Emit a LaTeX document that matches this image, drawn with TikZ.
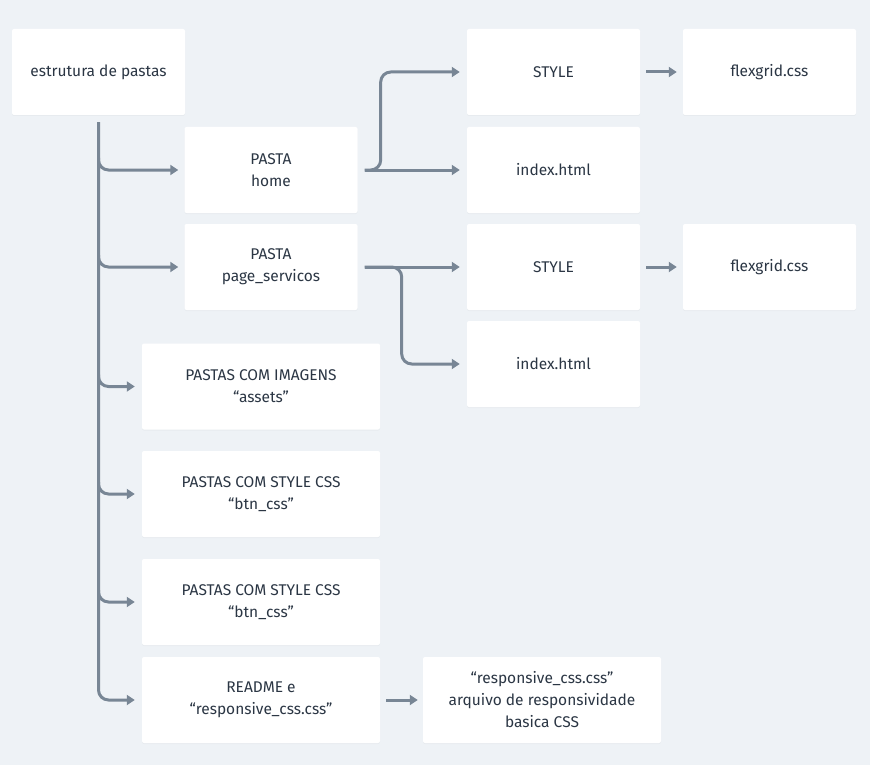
\documentclass[tikz,border=0pt]{standalone}
\usepackage{fontspec}
\setmainfont{Fira Sans}
\usetikzlibrary{arrows.meta,shadows}
\definecolor{bgc}{HTML}{EEF2F6}
\definecolor{linec}{HTML}{788695}
\definecolor{txtc}{HTML}{2B3644}
\tikzset{
  box/.style={fill=white, rounded corners=2pt, minimum width=#1, minimum height=86pt,
    inner sep=0pt, align=center, text=txtc, font=\fontsize{15.5}{22}\selectfont,
    drop shadow={opacity=0.06, shadow xshift=0pt, shadow yshift=-1pt}},
  box/.default=173pt,
  conn/.style={draw=linec, line width=3pt, rounded corners=10pt,
    -{Triangle[length=8pt,width=10pt]}},
}
\begin{document}
\begin{tikzpicture}[x=1pt,y=-1pt]
\fill[bgc] (0,0) rectangle (870,765);
\useasboundingbox (0,0) rectangle (870,765);
\node[box] (root) at (98.5,72) {estrutura de pastas};
\node[box] (home) at (271,170) {PASTA\\home};
\node[box] (page) at (271,267) {PASTA\\page\_servicos};
\node[box=238pt] (img) at (261,386.5) {PASTAS COM IMAGENS\\“assets”};
\node[box=238pt] (css1) at (261,494) {PASTAS COM STYLE CSS\\“btn\_css”};
\node[box=238pt] (css2) at (261,602) {PASTAS COM STYLE CSS\\“btn\_css”};
\node[box=238pt] (readme) at (261,700) {README e\\“responsive\_css.css”};
\node[box=238pt] (resp) at (542,700) {“responsive\_css.css”\\arquivo de responsividade\\basica CSS};
\node[box] (style1) at (553.5,72) {STYLE};
\node[box] (index1) at (553.5,170) {index.html};
\node[box] (style2) at (553.5,267) {STYLE};
\node[box] (index2) at (553.5,364) {index.html};
\node[box] (flex1) at (769.5,72) {flexgrid.css};
\node[box] (flex2) at (769.5,267) {flexgrid.css};

% trunk
\draw[conn] ([yshift=-7pt]root.south) |- ([xshift=-7pt]readme.west);
\draw[conn] ([yshift=12pt]root.south |- home.west) |- ([xshift=-6pt]home.west);
\draw[conn] ([yshift=12pt]root.south |- page.west) |- ([xshift=-6pt]page.west);
\draw[conn] ([yshift=12pt]root.south |- img.west) |- ([xshift=-7pt]img.west);
\draw[conn] ([yshift=12pt]root.south |- css1.west) |- ([xshift=-7pt]css1.west);
\draw[conn] ([yshift=12pt]root.south |- css2.west) |- ([xshift=-7pt]css2.west);

% home
\draw[conn] ([xshift=7pt]home.east) -- ++(16,0) |- ([xshift=-7pt]style1.west);
\draw[conn] ([xshift=7pt]home.east) -- ([xshift=-7pt]index1.west);
% page
\draw[conn] ([xshift=7pt]page.east) -- ([xshift=-7pt]style2.west);
\draw[conn] ([xshift=7pt]page.east) -- ++(37,0) |- ([xshift=-7pt]index2.west);
% style -> flex
\draw[conn] ([xshift=6pt]style1.east) -- ([xshift=-6pt]flex1.west);
\draw[conn] ([xshift=6pt]style2.east) -- ([xshift=-6pt]flex2.west);
% readme -> resp
\draw[conn] ([xshift=6pt]readme.east) -- ([xshift=-5pt]resp.west);
\end{tikzpicture}
\end{document}
